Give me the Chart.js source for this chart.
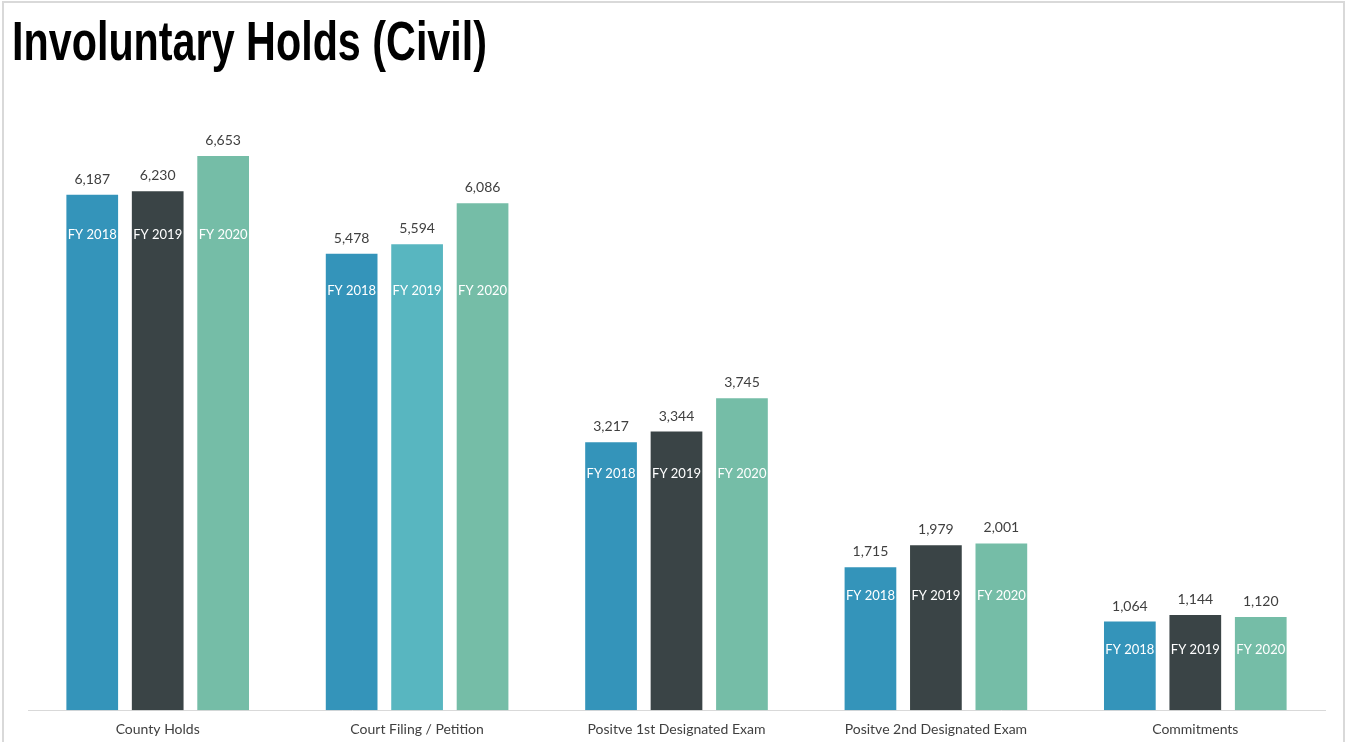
<!DOCTYPE html>
<html>
<head>
<meta charset="utf-8">
<script src="https://cdn.jsdelivr.net/npm/chart.js@4"></script>
<style>
body { margin: 0; background: #fff; }
#wrap { position: relative; width: 1351px; height: 742px; overflow: hidden; }
#frame { position: absolute; left: 2px; top: 1px; width: 1343px; height: 760px; border: 2px solid #D9D9D9; box-sizing: border-box; }
#title { position: absolute; left: 12px; top: 13px; margin: 0; font: bold 56px "Liberation Sans", Arial, sans-serif; line-height: 56px; color: #000; white-space: nowrap; transform-origin: 0 0; }
canvas { position: absolute; left: 0; top: 0; }
</style>
</head>
<body>
<div id="wrap">
  <div id="frame"></div>
  <h1 id="title">Involuntary Holds (Civil)</h1>
  <canvas id="holdsChart" width="1351" height="753"></canvas>
</div>
<script>
// Chart data
const categories = ['County Holds', 'Court Filing / Petition', 'Positve 1st Designated Exam', 'Positve 2nd Designated Exam', 'Commitments'];
const seriesNames = ['FY 2018', 'FY 2019', 'FY 2020'];
const fy2018 = [6187, 5478, 3217, 1715, 1064];
const fy2019 = [6230, 5594, 3344, 1979, 1144];
const fy2020 = [6653, 6086, 3745, 2001, 1120];

// squeeze the title so it looks condensed
const title = document.getElementById('title');
title.style.transform = 'scaleX(' + (475 / title.scrollWidth) + ')';

const blue = '#3494BA', dark = '#3A4446', green = '#75BDA7', teal = '#58B6C0';

// value above each bar, series name inside each bar
const barLabels = {
  id: 'barLabels',
  afterDatasetsDraw(chart) {
    const ctx = chart.ctx;
    const metas = chart.data.datasets.map((d, i) => chart.getDatasetMeta(i));
    ctx.save();
    ctx.textAlign = 'center';
    categories.forEach((c, j) => {
      // inner labels of a group share one line, set by the shortest bar
      let low = 0, lowVal = Infinity;
      metas.forEach((m, i) => {
        const v = chart.data.datasets[i].data[j];
        if (v < lowVal) { lowVal = v; low = m.data[j].y; }
      });
      const off = 28 + 12 * Math.pow(lowVal / 6187, 2);
      metas.forEach((m, i) => {
        const bar = m.data[j];
        const v = chart.data.datasets[i].data[j];
        ctx.fillStyle = '#404040';
        ctx.font = '14px Lato';
        ctx.textBaseline = 'alphabetic';
        ctx.fillText(v.toLocaleString('en-US'), bar.x, bar.y - 11);
        ctx.fillStyle = '#fff';
        ctx.font = '13px Lato';
        ctx.textBaseline = 'middle';
        ctx.fillText(seriesNames[i], bar.x, low + off);
      });
    });
    ctx.restore();
  }
};

const ctx = document.getElementById('holdsChart').getContext('2d');
new Chart(ctx, {
  type: 'bar',
  data: {
    labels: categories,
    datasets: [
      { label: seriesNames[0], data: fy2018, backgroundColor: blue },
      { label: seriesNames[1], data: fy2019, backgroundColor: [dark, teal, dark, dark, dark] },
      { label: seriesNames[2], data: fy2020, backgroundColor: green }
    ]
  },
  options: {
    responsive: false,
    animation: false,
    categoryPercentage: 0.757,
    barPercentage: 0.79,
    layout: { padding: { left: 28, right: 26, top: 127, bottom: 4 } },
    plugins: {
      legend: { display: false },
      tooltip: { enabled: false }
    },
    scales: {
      y: { display: false, min: 0, max: 7000 },
      x: {
        grid: { display: false, drawTicks: false },
        border: { display: true, color: '#D9D9D9', width: 1 },
        ticks: { color: '#404040', font: { family: 'Lato', size: 14 }, padding: 11, maxRotation: 0, autoSkip: false }
      }
    }
  },
  plugins: [barLabels]
});
</script>
</body>
</html>
